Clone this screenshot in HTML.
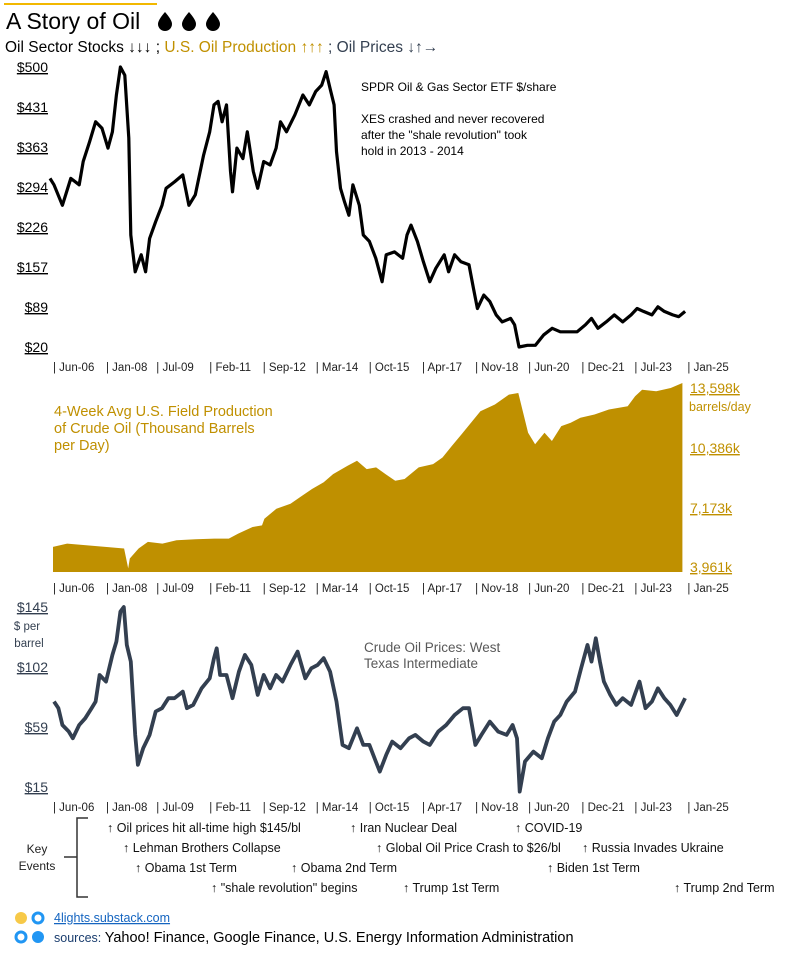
<!DOCTYPE html>
<html><head><meta charset="utf-8"><style>
html,body{margin:0;padding:0;background:#fff;}
svg{display:block;font-family:"Liberation Sans Narrow","Liberation Sans",sans-serif;}
</style></head><body>
<svg id="s" width="786" height="954" viewBox="0 0 786 954" xmlns="http://www.w3.org/2000/svg">
<rect x="4" y="3" width="153" height="2" fill="#f2b800"/>
<text x="6" y="29" font-size="23" fill="#000" font-family="Liberation Sans, sans-serif">A Story of Oil</text>
<g fill="#000">
<path d="M165 12 Q158 20 158 24 A7 7 0 0 0 172 24 Q172 20 165 12Z"/>
<path d="M189 12 Q182 20 182 24 A7 7 0 0 0 196 24 Q196 20 189 12Z"/>
<path d="M213 12 Q206 20 206 24 A7 7 0 0 0 220 24 Q220 20 213 12Z"/>
</g>
<text x="5" y="52" font-size="15.5"><tspan fill="#000">Oil Sector Stocks ↓↓↓ ; </tspan><tspan fill="#c09000">U.S. Oil Production ↑↑↑</tspan><tspan fill="#333f50"> ; Oil Prices ↓↑→</tspan></text>

<g font-size="14" text-anchor="end" text-decoration="underline" fill="#000">
<text x="48" y="72">$500</text><text x="48" y="112">$431</text><text x="48" y="152">$363</text><text x="48" y="192">$294</text>
<text x="48" y="232">$226</text><text x="48" y="272">$157</text><text x="48" y="312">$89</text><text x="48" y="352">$20</text>
</g>
<g font-size="12" fill="#000">
<text x="361" y="91">SPDR Oil &amp; Gas Sector ETF $/share</text>
<text x="361" y="123">XES crashed and never recovered</text>
<text x="361" y="139">after the "shale revolution" took</text>
<text x="361" y="155">hold in 2013 - 2014</text>
</g>
<g id="stock"></g>
<g id="ticks1"></g>

<g font-size="14.5" fill="#c09000">
<text x="54" y="416">4-Week Avg U.S. Field Production</text>
<text x="54" y="433">of Crude Oil (Thousand Barrels</text>
<text x="54" y="450">per Day)</text>
</g>
<g font-size="14" fill="#c09000" text-decoration="underline">
<text x="690" y="393">13,598k</text><text x="690" y="453">10,386k</text><text x="690" y="513">7,173k</text><text x="690" y="572">3,961k</text>
</g>
<text x="689" y="411" font-size="12.5" fill="#c09000">barrels/day</text>
<g id="prod"></g>
<g id="ticks2"></g>

<g font-size="14" fill="#333f50" text-anchor="end" text-decoration="underline">
<text x="48" y="612">$145</text><text x="48" y="672">$102</text><text x="48" y="732">$59</text><text x="48" y="792">$15</text>
</g>
<g font-size="11.5" fill="#333f50" text-anchor="middle">
<text x="27" y="630">$ per</text><text x="29" y="647">barrel</text></g>
<g font-size="13.5" fill="#595959">
<text x="364" y="652">Crude Oil Prices: West</text><text x="364" y="668">Texas Intermediate</text></g>
<g id="price"></g>
<g id="ticks3"></g>

<g>
<g font-size="12" fill="#222" text-anchor="middle"><text x="37" y="853">Key</text><text x="37" y="870">Events</text></g>
<path d="M88 818 H77 V897 H88 M77 857 H64" fill="none" stroke="#333" stroke-width="1.5"/>
<g font-size="12.5" fill="#111">
<text x="107" y="832">↑ Oil prices hit all-time high $145/bl</text>
<text x="350" y="832">↑ Iran Nuclear Deal</text>
<text x="515" y="832">↑ COVID-19</text>
<text x="123" y="852">↑ Lehman Brothers Collapse</text>
<text x="376" y="852">↑ Global Oil Price Crash to $26/bl</text>
<text x="582" y="852">↑ Russia Invades Ukraine</text>
<text x="135" y="872">↑ Obama 1st Term</text>
<text x="291" y="872">↑ Obama 2nd Term</text>
<text x="547" y="872">↑ Biden 1st Term</text>
<text x="211" y="892">↑ "shale revolution" begins</text>
<text x="403" y="892">↑ Trump 1st Term</text>
<text x="674" y="892">↑ Trump 2nd Term</text>
</g></g>

<g>
<circle cx="21" cy="918" r="6" fill="#f7c948"/>
<circle cx="38" cy="918" r="5" fill="none" stroke="#2196f3" stroke-width="3"/>
<circle cx="21" cy="937" r="5" fill="none" stroke="#2196f3" stroke-width="3"/>
<circle cx="38" cy="937" r="6" fill="#2196f3"/>
</g>
<text x="54" y="922" font-size="12.5" fill="#1565c0" text-decoration="underline">4lights.substack.com</text>
<text x="54" y="942" font-size="14.5" fill="#000"><tspan font-size="12.5" fill="#1a3d6e">sources: </tspan>Yahoo! Finance, Google Finance, U.S. Energy Information Administration</text>
</svg>
<script>
const tickLabels = ["Jun-06","Jan-08","Jul-09","Feb-11","Sep-12","Mar-14","Oct-15","Apr-17","Nov-18","Jun-20","Dec-21","Jul-23","Jan-25"];
const tickYears = [2006.42,2008.0,2009.5,2011.08,2012.67,2014.25,2015.83,2017.42,2019.0,2020.58,2022.17,2023.75,2025.33];

const stockYears = [2006.33,2006.45,2006.70,2006.95,2007.20,2007.32,2007.51,2007.69,2007.88,2008.06,2008.19,2008.31,2008.43,2008.56,2008.68,2008.74,2008.87,2009.05,2009.18,2009.30,2009.48,2009.67,2009.79,2010.04,2010.29,2010.47,2010.66,2010.91,2011.09,2011.22,2011.34,2011.46,2011.59,2011.71,2011.77,2011.90,2012.08,2012.21,2012.39,2012.52,2012.70,2012.89,2013.07,2013.20,2013.38,2013.63,2013.87,2014.06,2014.25,2014.43,2014.56,2014.68,2014.80,2014.87,2014.99,2015.11,2015.24,2015.36,2015.55,2015.67,2015.85,2016.04,2016.23,2016.35,2016.60,2016.84,2016.97,2017.09,2017.28,2017.46,2017.65,2017.83,2018.08,2018.21,2018.39,2018.58,2018.82,2018.95,2019.07,2019.26,2019.44,2019.63,2019.81,2020.06,2020.18,2020.31,2020.56,2020.80,2021.05,2021.30,2021.54,2021.79,2022.04,2022.29,2022.47,2022.66,2022.91,2023.15,2023.40,2023.65,2023.83,2024.02,2024.27,2024.45,2024.64,2024.89,2025.07,2025.26];
const stockValues = [309,298,263,309,298,338,372,406,395,361,389,452,500,486,378,212,149,178,149,206,235,263,292,303,315,263,281,349,389,435,441,406,435,321,286,361,343,389,321,292,338,332,361,406,389,418,452,435,458,469,492,463,435,355,292,269,246,298,263,212,201,172,132,178,183,172,212,229,201,166,132,155,178,149,178,166,161,121,86,109,98,75,63,69,58,20,23,23,41,52,46,46,46,58,69,52,63,75,63,75,86,81,75,89,81,75,72,81];

const prodYears = [2006.42,2006.84,2007.41,2007.98,2008.54,2008.66,2008.71,2008.97,2009.25,2009.68,2010.10,2010.67,2011.23,2011.66,2011.94,2012.37,2012.65,2012.72,2013.08,2013.50,2013.78,2014.14,2014.49,2014.77,2015.20,2015.48,2015.77,2016.05,2016.33,2016.62,2016.90,2017.32,2017.75,2018.03,2018.31,2018.60,2018.88,2019.16,2019.59,2020.01,2020.29,2020.58,2020.79,2021.07,2021.29,2021.57,2021.85,2022.14,2022.56,2022.99,2023.55,2023.77,2023.98,2024.40,2024.83,2025.18];
const prodValues = [5044,5223,5134,5044,4955,3886,4421,4955,5312,5223,5401,5455,5490,5490,5757,6114,6203,6559,7094,7361,7717,8163,8519,8964,9410,9677,9232,9321,8964,8608,8697,9321,9499,9856,10480,11103,11727,12351,12707,13242,13331,11192,10569,11192,10747,11549,11727,11994,12172,12440,12618,13153,13509,13420,13598,13865];

const priceYears = [2006.45,2006.58,2006.70,2006.89,2007.01,2007.20,2007.38,2007.57,2007.69,2007.81,2008.00,2008.19,2008.31,2008.43,2008.53,2008.62,2008.74,2008.87,2008.95,2009.11,2009.30,2009.48,2009.67,2009.86,2010.04,2010.29,2010.41,2010.60,2010.85,2011.09,2011.22,2011.30,2011.40,2011.59,2011.77,2011.96,2012.14,2012.33,2012.52,2012.70,2012.89,2013.07,2013.26,2013.50,2013.71,2013.94,2014.12,2014.31,2014.49,2014.68,2014.87,2015.05,2015.24,2015.48,2015.67,2015.85,2016.04,2016.16,2016.35,2016.53,2016.78,2017.03,2017.22,2017.46,2017.65,2017.90,2018.14,2018.39,2018.64,2018.82,2019.01,2019.19,2019.44,2019.69,2019.94,2020.12,2020.25,2020.33,2020.49,2020.74,2020.99,2021.17,2021.36,2021.54,2021.73,2021.98,2022.16,2022.35,2022.47,2022.60,2022.72,2022.84,2023.03,2023.21,2023.40,2023.65,2023.90,2024.08,2024.27,2024.45,2024.64,2024.82,2025.01,2025.26];
const priceValues = [76.7,71.9,59.8,55.0,50.2,59.8,64.6,71.9,76.7,95.9,91.1,110.4,120.0,141.7,145,117.6,105.6,52.6,31.0,43.0,52.6,69.5,71.9,79.1,79.1,83.9,71.9,74.3,86.3,93.5,108.0,115.2,95.9,95.9,79.1,98.3,110.4,103.2,81.5,95.9,86.3,95.9,91.1,103.2,112.8,93.5,100.7,103.2,108.0,98.3,76.7,45.4,43.0,57.4,45.4,45.4,33.4,26.1,38.2,47.8,43.0,50.2,52.6,47.8,45.4,55.0,59.8,67.0,71.9,71.9,45.4,52.6,62.2,55.0,52.6,59.8,50.2,11.7,33.4,40.6,35.8,50.2,62.2,67.0,76.7,83.9,100.7,117.6,105.6,122.4,105.6,91.1,81.5,74.3,79.1,74.3,91.1,71.9,76.7,86.3,79.1,74.3,67.0,79.1];

const NS = "http://www.w3.org/2000/svg";
function xScale(yr){ return 53 + (yr - 2006.42) * 33.55; }
function yStock(v){ return 347 - (v - 20) * 280 / 480; }
function yProd(v){ return 567 - (v - 3961) * 179 / (13598 - 3961); }
function yPrice(v){ return 787 - (v - 15) * 180 / 130; }
function mk(tag, parent){ const e = document.createElementNS(NS, tag); parent.appendChild(e); return e; }

function linePath(xs, vs, yf){ return xs.map((t,i)=>(i?"L":"M")+xScale(t).toFixed(1)+" "+yf(vs[i]).toFixed(1)).join(" "); }

const sp = mk("path", document.getElementById("stock"));
sp.setAttribute("d", linePath(stockYears, stockValues, yStock));
sp.setAttribute("fill","none"); sp.setAttribute("stroke","#000"); sp.setAttribute("stroke-width","3.2"); sp.setAttribute("stroke-linejoin","round");



const pp = mk("path", document.getElementById("prod"));
const pd = "M"+xScale(prodYears[0]).toFixed(1)+" 572 " + prodYears.map((t,i)=>"L"+xScale(t).toFixed(1)+" "+yProd(prodValues[i]).toFixed(1)).join(" ") + " L"+xScale(prodYears[prodYears.length-1]).toFixed(1)+" 572 Z";
pp.setAttribute("d", pd); pp.setAttribute("fill","#bf9000");



const op = mk("path", document.getElementById("price"));
op.setAttribute("d", linePath(priceYears, priceValues, yPrice));
op.setAttribute("fill","none"); op.setAttribute("stroke","#333f50"); op.setAttribute("stroke-width","3.8"); op.setAttribute("stroke-linejoin","round");



[["ticks1",371],["ticks2",592],["ticks3",811]].forEach(([id,y])=>{
  const g = document.getElementById(id);
  tickLabels.forEach((lab,i)=>{
    const t = mk("text", g);
    t.setAttribute("x", xScale(tickYears[i]).toFixed(1));
    t.setAttribute("y", y);
    t.setAttribute("font-size","11.5");
    t.setAttribute("fill","#222");
    t.textContent = "| " + lab;
    
    
  });
});
</script>
</body></html>
